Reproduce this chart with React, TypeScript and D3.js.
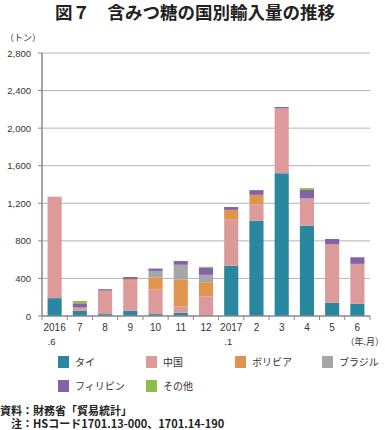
import React from "react";
import * as d3 from "d3";

const categories = ["2016\n.6", "7", "8", "9", "10", "11", "12", "2017\n.1", "2", "3", "4", "5", "6"];
const seriesNames = ["タイ", "中国", "ボリビア", "ブラジル", "フィリピン", "その他"];
const seriesColors = ["#2a87a0", "#dc9a9a", "#e0944f", "#a6a6a6", "#8462a8", "#8dbf4a"];
const thai = [190, 55, 20, 55, 20, 35, 0, 535, 1015, 1520, 962, 140, 130];
const china = [1080, 35, 250, 320, 265, 65, 210, 490, 175, 690, 290, 625, 425];
const bolivia = [0, 0, 0, 20, 125, 290, 150, 105, 100, 0, 0, 0, 0];
const brazil = [0, 0, 0, 0, 70, 155, 78, 0, 0, 0, 0, 0, 0];
const philippines = [0, 45, 15, 20, 25, 40, 78, 30, 50, 15, 90, 55, 70];
const others = [0, 25, 0, 0, 0, 0, 8, 0, 0, 0, 20, 0, 0];
const yTicks = [0, 400, 800, 1200, 1600, 2000, 2400, 2800];

const seriesValues = [thai, china, bolivia, brazil, philippines, others];

const JP = "'Noto Sans CJK JP', sans-serif";
const NUM = "'Liberation Sans', 'Noto Sans CJK JP', sans-serif";

export default function App() {
  const W = 385, H = 430;
  const left = 42, right = 370, top = 53, bottom = 316;
  const x = d3.scaleBand<number>().domain(d3.range(categories.length)).range([left, right]).paddingInner(0.44).paddingOuter(0.22);
  const step = (right - left) / categories.length;
  const y = d3.scaleLinear().domain([0, 2800]).range([bottom, top]);

  const table = categories.map((c, i) => {
    const row: any = { i };
    seriesNames.forEach((s, k) => (row[s] = seriesValues[k][i]));
    return row;
  });
  const stacked = d3.stack().keys(seriesNames)(table);

  const legendCols = [58, 146, 235, 322];
  const legendRows = [356, 380];

  return (
    <svg width={W} height={H} style={{ position: "absolute", left: 0, top: 0 }}>
      <rect width={W} height={H} fill="#fff" />
      <text x={195} y={18.5} textAnchor="middle" fontFamily={JP} fontSize={17.5} fontWeight={700} fill="#222">
        図７　含みつ糖の国別輸入量の推移
      </text>
      <text x={5} y={41} fontFamily={JP} fontSize={9} fill="#333">（トン）</text>
      {yTicks.map((t) => (
        <g key={t}>
          {t > 0 && <line x1={left} x2={right} y1={y(t)} y2={y(t)} stroke="#b4b4b4" strokeWidth={1} />}
          <line x1={left - 4} x2={left} y1={y(t)} y2={y(t)} stroke="#888" strokeWidth={1} />
          <text x={31} y={y(t) + 3.5} textAnchor="end" fontFamily={NUM} fontSize={9.5} fill="#333">
            {d3.format(",")(t)}
          </text>
        </g>
      ))}
      {stacked.map((layer, k) => (
        <g key={k} fill={seriesColors[k]}>
          {layer.map((d, i) =>
            d[1] - d[0] > 0 ? (
              <rect key={i} x={x(i)} width={x.bandwidth()} y={y(d[1])} height={y(d[0]) - y(d[1])} />
            ) : null
          )}
        </g>
      ))}
      <line x1={left} x2={left} y1={top} y2={bottom} stroke="#888" strokeWidth={1.5} />
      <line x1={left} x2={right} y1={bottom} y2={bottom} stroke="#888" strokeWidth={1.5} />
      {d3.range(categories.length + 1).map((i) => (
        <line key={i} x1={left + i * step} x2={left + i * step} y1={bottom} y2={bottom + 4} stroke="#888" strokeWidth={1} />
      ))}
      {categories.map((c, i) => {
        const parts = c.split("\n");
        const cx = (x(i) as number) + x.bandwidth() / 2;
        return (
          <g key={i}>
            <text x={cx} y={331} textAnchor="middle" fontFamily={NUM} fontSize={10} fill="#333">{parts[0]}</text>
            {parts[1] && (
              <text x={cx - 3} y={345} textAnchor="middle" fontFamily={NUM} fontSize={9.5} fill="#333">{parts[1]}</text>
            )}
          </g>
        );
      })}
      <text x={384} y={345} textAnchor="end" fontFamily={JP} fontSize={9} fill="#333">（年.月）</text>
      {seriesNames.map((s, k) => {
        const lx = legendCols[k % 4];
        const ly = legendRows[Math.floor(k / 4)];
        return (
          <g key={s}>
            <rect x={lx} y={ly} width={11} height={12} fill={seriesColors[k]} />
            <text x={lx + 17} y={ly + 10} fontFamily={JP} fontSize={10} fill="#333">{s}</text>
          </g>
        );
      })}
      <text x={0} y={415} fontFamily={JP} fontSize={11} fontWeight={700} fill="#222">資料：財務省「貿易統計」</text>
      <text x={11} y={428} fontFamily={JP} fontSize={11} fontWeight={700} fill="#222">注：HSコード1701.13-000、1701.14-190</text>
    </svg>
  );
}
